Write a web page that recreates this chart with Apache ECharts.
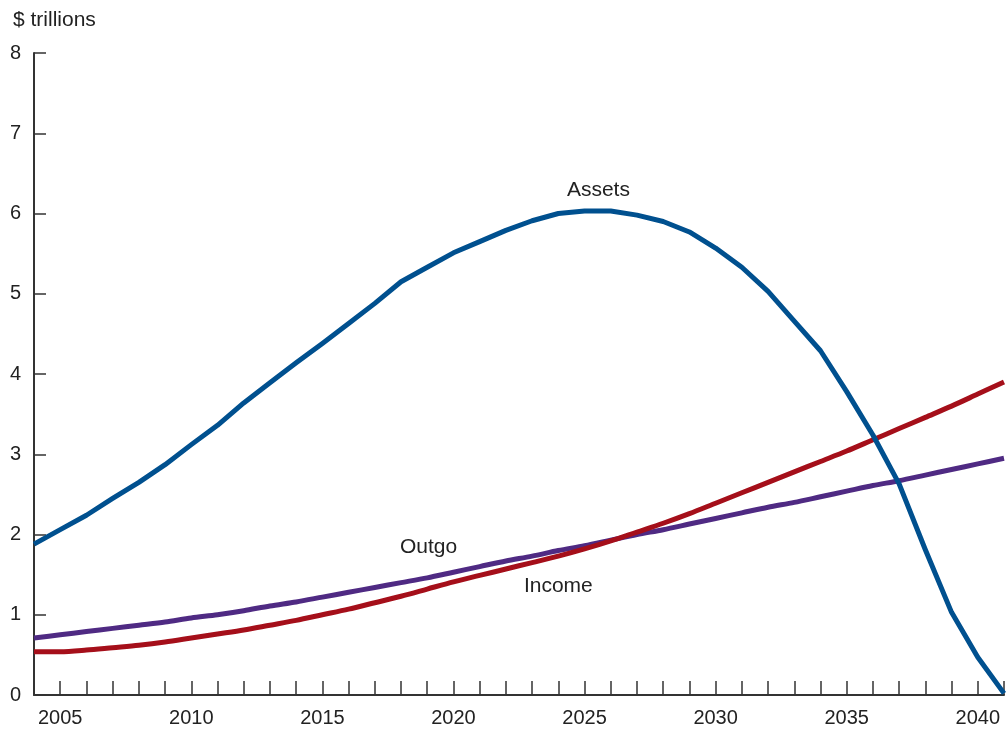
<!DOCTYPE html>
<html>
<head>
<meta charset="utf-8">
<script src="https://cdn.jsdelivr.net/npm/echarts@6/dist/echarts.min.js"></script>
<style>
html,body{margin:0;padding:0;background:#fff;}
#chart{width:1007px;height:730px;}
</style>
</head>
<body>
<div id="chart"></div>
<script>
const years = [2004,2005,2006,2007,2008,2009,2010,2011,2012,2013,2014,2015,2016,2017,2018,2019,2020,2021,2022,2023,2024,2025,2026,2027,2028,2029,2030,2031,2032,2033,2034,2035,2036,2037,2038,2039,2040,2041];
const assets = [1.88,2.06,2.24,2.45,2.65,2.87,3.12,3.36,3.64,3.89,4.14,4.38,4.63,4.88,5.15,5.33,5.51,5.65,5.79,5.91,6.00,6.03,6.03,5.98,5.90,5.77,5.57,5.33,5.03,4.66,4.29,3.78,3.24,2.63,1.81,1.03,0.47,0.02];
const income = [0.54,0.54,0.56,0.59,0.62,0.66,0.71,0.76,0.81,0.87,0.93,1.00,1.07,1.15,1.23,1.32,1.41,1.49,1.57,1.65,1.73,1.82,1.92,2.03,2.14,2.26,2.39,2.52,2.65,2.78,2.91,3.04,3.18,3.32,3.46,3.60,3.75,3.90];
const outgo = [0.71,0.75,0.79,0.83,0.87,0.91,0.96,1.00,1.05,1.11,1.16,1.22,1.28,1.34,1.40,1.46,1.53,1.60,1.67,1.73,1.80,1.86,1.93,2.00,2.06,2.13,2.20,2.27,2.34,2.40,2.47,2.54,2.61,2.67,2.74,2.81,2.88,2.95];
const yTicks = [0,1,2,3,4,5,6,7,8];
const seriesLabels = [
  {name:'Assets', at:[2025.53, 6.29]},
  {name:'Outgo', at:[2019.05, 1.84]},
  {name:'Income', at:[2024.0, 1.35]}
];

const FONT = '"Liberation Sans", Arial, Helvetica, sans-serif';
const pairs = arr => years.map((y,i)=>[y, arr[i]]);
const colors = {Assets:'#00508F', Income:'#A50F1A', Outgo:'#4F2A83'};

function labelPoint(name){
  const l = seriesLabels.find(s=>s.name===name);
  return {
    silent:true,
    symbol:'circle', symbolSize:0,
    label:{show:true, position:'inside', formatter:name, color:'#222', fontSize:21, fontFamily:FONT},
    data:[{coord:l.at}]
  };
}

const chart = echarts.init(document.getElementById('chart'), null, {renderer:'canvas'});
chart.setOption({
  animation:false,
  backgroundColor:'#fff',
  grid:{left:34, right:3, top:53, bottom:35, containLabel:false},
  title:{text:'$ trillions', left:8, top:5, textStyle:{fontSize:21, fontWeight:'normal', color:'#222', fontFamily:FONT}},
  xAxis:{
    type:'value', min:2004, max:2041, interval:1,
    axisLine:{show:true, lineStyle:{color:'#333', width:2}},
    axisTick:{show:true, inside:true, length:14, lineStyle:{color:'#333', width:1.5}},
    splitLine:{show:false},
    axisLabel:{color:'#222', fontSize:20, fontFamily:FONT, margin:13,
      formatter:v => (v % 5 === 0 && v > 2004 && v < 2041) ? String(v) : ''}
  },
  yAxis:{
    type:'value', min:yTicks[0], max:yTicks[yTicks.length-1], interval:1,
    axisLine:{show:true, lineStyle:{color:'#333', width:2}},
    axisTick:{show:true, inside:true, length:12, lineStyle:{color:'#333', width:1.5}},
    splitLine:{show:false},
    axisLabel:{color:'#222', fontSize:20, fontFamily:FONT, margin:13}
  },
  series:[
    {name:'Outgo', type:'line', data:pairs(outgo), showSymbol:false, smooth:0.3,
      lineStyle:{color:colors.Outgo, width:5}, itemStyle:{color:colors.Outgo}, z:3,
      markPoint:labelPoint('Outgo')},
    {name:'Income', type:'line', data:pairs(income), showSymbol:false, smooth:0.3,
      lineStyle:{color:colors.Income, width:5}, itemStyle:{color:colors.Income}, z:4,
      markPoint:labelPoint('Income')},
    {name:'Assets', type:'line', data:pairs(assets), showSymbol:false, smooth:false,
      lineStyle:{color:colors.Assets, width:5, join:'round'}, itemStyle:{color:colors.Assets}, z:5,
      markPoint:labelPoint('Assets')}
  ]
});
</script>
</body>
</html>
